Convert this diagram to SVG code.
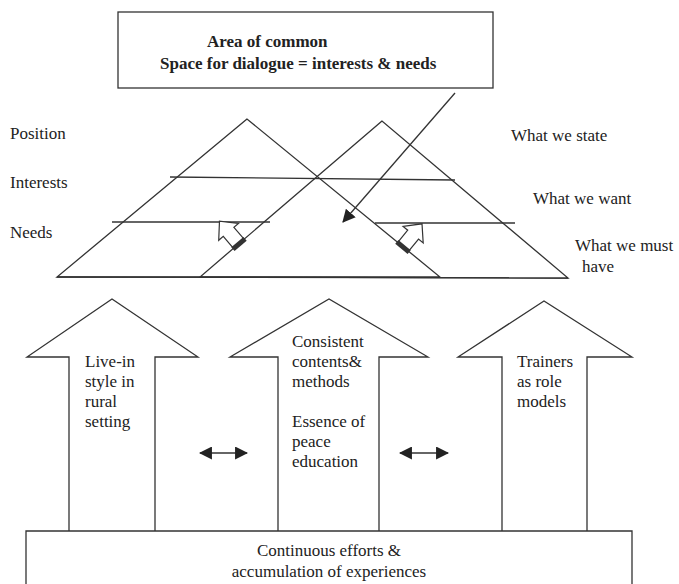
<svg xmlns="http://www.w3.org/2000/svg" width="679" height="584" viewBox="0 0 679 584">
<style>
.ln{fill:none;stroke:#333;stroke-width:1.3}
.sh{fill:#fff;stroke:#333;stroke-width:1.3;stroke-linejoin:miter}
.t{font-family:"Liberation Serif","Times New Roman",serif;font-size:17px;fill:#222}
.b{font-weight:bold}
</style>
<defs>
<marker id="ah" viewBox="0 0 12 12" markerWidth="13" markerHeight="13" refX="11" refY="6" orient="auto-start-reverse" markerUnits="userSpaceOnUse">
<path d="M0,0 L12,6 L0,12 z" fill="#222"/>
</marker>
<g id="small-arrow">
<path d="M-7,0 V-16 H-13 L0,-30 L13,-16 H7 V0 z" fill="#fff" stroke="#333" stroke-width="1.2"/>
<rect x="-8" y="-2.5" width="16" height="5" fill="#333"/>
</g>
</defs>
<rect width="679" height="584" fill="#fff"/>

<g id="top-box">
<rect x="118" y="12" width="375" height="76" class="sh"/>
<text class="t b" x="207" y="47">Area of common</text>
<text class="t b" x="160" y="69">Space for dialogue = interests &amp; needs</text>
</g>

<g id="pyramids">
<polygon points="247,119 57,277 440,277" class="ln"/>
<polygon points="382,121 200,277 568,278" class="ln"/>
<line x1="57" y1="277" x2="568" y2="278" class="ln"/>
<line x1="170" y1="177" x2="455" y2="180" class="ln"/>
<line x1="112" y1="222" x2="270" y2="222" class="ln"/>
<line x1="375" y1="223" x2="515" y2="223" class="ln"/>
<use href="#small-arrow" transform="translate(239,244) rotate(-40.6)"/>
<use href="#small-arrow" transform="translate(403,247) rotate(39.3)"/>
</g>

<g id="labels-left">
<text class="t" x="10" y="139">Position</text>
<text class="t" x="10" y="188">Interests</text>
<text class="t" x="10" y="238">Needs</text>
</g>
<g id="labels-right">
<text class="t" x="511" y="141">What we state</text>
<text class="t" x="533" y="204">What we want</text>
<text class="t" x="575" y="251">What we must</text>
<text class="t" x="582" y="272">have</text>
</g>

<g id="arrow-live-in">
<path d="M69,531 V357 H27 L112,299 L198,357 H155 V531" class="sh"/>
<text class="t" x="85" y="367">Live-in</text>
<text class="t" x="85" y="387">style in</text>
<text class="t" x="85" y="407">rural</text>
<text class="t" x="85" y="427">setting</text>
</g>
<g id="arrow-consistent">
<path d="M278,531 V357 H230 L329,299 L428,357 H379 V531" class="sh"/>
<text class="t" x="292" y="347">Consistent</text>
<text class="t" x="292" y="367">contents&amp;</text>
<text class="t" x="292" y="387">methods</text>
<text class="t" x="292" y="427">Essence of</text>
<text class="t" x="292" y="447">peace</text>
<text class="t" x="292" y="467">education</text>
</g>
<g id="arrow-trainers">
<path d="M502,531 V357 H458 L544,301 L632,357 H587 V531" class="sh"/>
<text class="t" x="517" y="367">Trainers</text>
<text class="t" x="517" y="387">as role</text>
<text class="t" x="517" y="407">models</text>
</g>

<g id="bottom-box">
<path d="M26,590 V531 H632 V590" class="sh"/>
<text class="t" x="329" y="556" text-anchor="middle">Continuous efforts &amp;</text>
<text class="t" x="329" y="577" text-anchor="middle">accumulation of experiences</text>
</g>

<g id="connectors">
<line x1="455" y1="93" x2="343" y2="222" class="ln" marker-end="url(#ah)"/>
<line x1="200" y1="453" x2="247" y2="453" class="ln" stroke-width="2" marker-start="url(#ah)" marker-end="url(#ah)"/>
<line x1="400" y1="453" x2="448" y2="453" class="ln" stroke-width="2" marker-start="url(#ah)" marker-end="url(#ah)"/>
</g>
</svg>
